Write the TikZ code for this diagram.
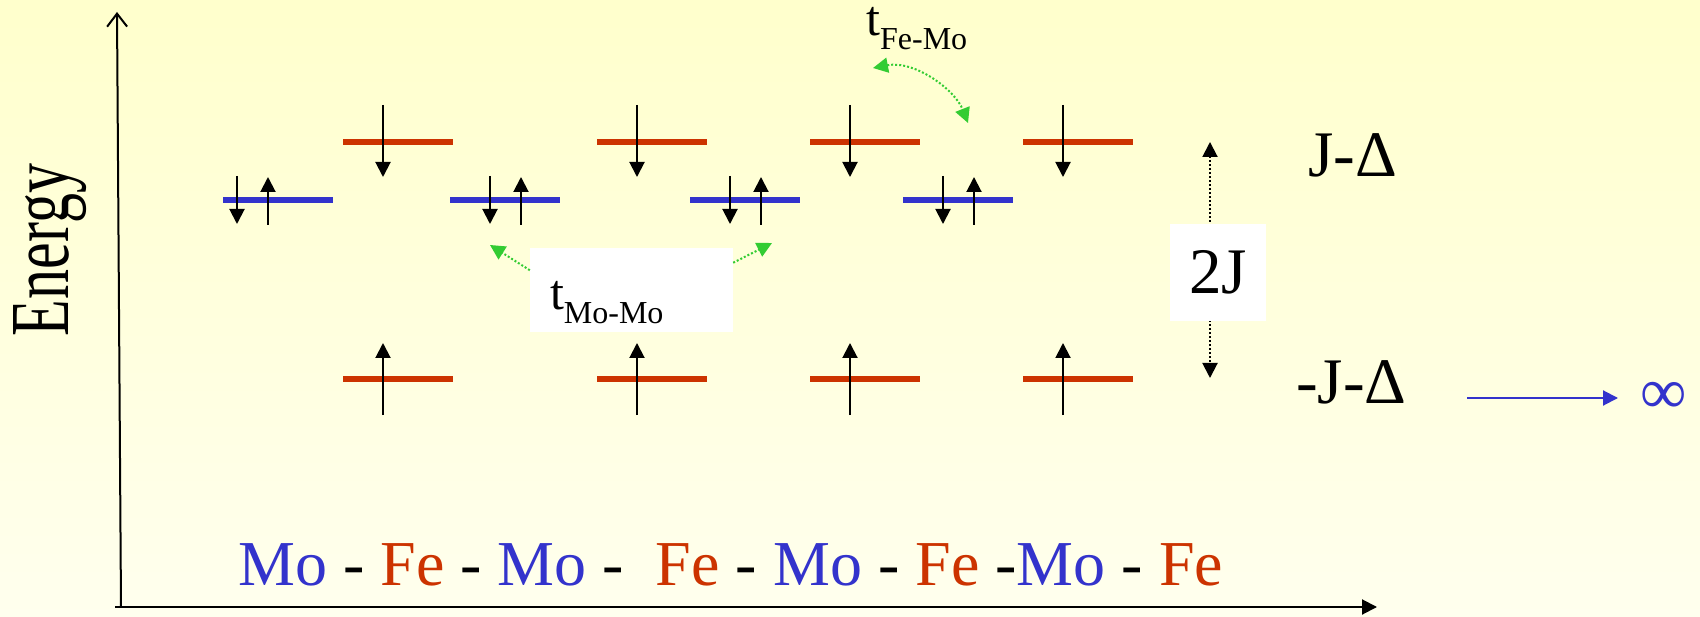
\documentclass[tikz,border=0pt]{standalone}
\usepackage{graphicx}
\usepackage{fontspec}
\setmainfont{Liberation Serif}
\usetikzlibrary{arrows.meta,positioning}

\definecolor{moblue}{RGB}{51,51,204}
\definecolor{fered}{RGB}{204,51,0}
\definecolor{hopgreen}{RGB}{51,204,51}
\definecolor{slidetop}{RGB}{255,255,204}
\definecolor{slidebot}{RGB}{255,255,238}

\newcommand{\bigtxt}{\fontsize{65}{70}\selectfont}
\newcommand{\hoplabel}[1]{{\fontsize{50}{50}\selectfont t}\raisebox{-14pt}{\fontsize{32}{32}\selectfont #1}}

\tikzset{
  level/.style={line width=6pt},
  spin/.style={line width=2pt,->},
  hop/.style={hopgreen,line width=2pt,dotted},
  txt/.style={inner sep=0pt},
  whitebox/.style={fill=white,inner sep=0pt},
}

\begin{document}
\begin{tikzpicture}[x=1pt,y=-1pt,>={Triangle[width=15pt,length=15pt]}]
\useasboundingbox (0,0) rectangle (1700,617);
\shade[top color=slidetop,bottom color=slidebot] (0,0) rectangle (1700,617);

% axes
\coordinate (ebot) at (121,607);
\coordinate (etop) at (117,12);
\coordinate (xleft) at (115,607);
\coordinate (xright) at (1377,607);
\draw[line width=2pt,-{Straight Barb[width=20pt,length=13pt]}] (ebot) -- (etop);
\draw[line width=2pt,->] (xleft) -- (xright);
\node[txt,rotate=90,anchor=base] (energy) at (68,250) {\fontsize{60}{66}\selectfont\scalebox{1}[1.4]{Energy}};

% levels
\foreach \lx in {343,597,810,1023} {
  \draw[level,fered] (\lx,142) -- ++(110,0);
  \draw[level,fered] (\lx,379) -- ++(110,0);
}
\foreach \lx in {223,450,690,903}
  \draw[level,moblue] (\lx,200) -- ++(110,0);

% spins
\foreach \sx in {383,637,850,1063} {
  \draw[spin] (\sx,105) -- (\sx,177);
  \draw[spin] (\sx,415) -- (\sx,343);
}
\foreach \sx in {237,490,730,943} {
  \draw[spin] (\sx,176) -- (\sx,224);
  \draw[spin] (\sx+31,225) -- (\sx+31,177);
}

% splitting
\coordinate (jtop) at (1210,142);
\coordinate (jbot) at (1210,378);
\draw[line width=2pt,dotted,<->] (jtop) -- (jbot);
\node[whitebox,minimum width=96pt,minimum height=97pt] (gap) at (1218,272.5) {\bigtxt 2J};
\node[txt,anchor=base west] (upper) at (1308,177) {\bigtxt J-Δ};
\node[txt,anchor=base west] (lower) at (1296,403) {\bigtxt -J-Δ};

\node[txt,moblue,anchor=west] (inf) at (1640,398) {\bigtxt ∞};
\coordinate (limit) at (1467,398);
\draw[moblue,line width=2pt,->,shorten >=22pt] (limit) -- (inf);

% hopping
\node[whitebox,minimum width=203pt,minimum height=84pt,inner xsep=20pt,text width=163pt,
      text height=40pt,text depth=0pt,align=left] (tmm) at (631.5,290) {\hoplabel{Mo-Mo}};
\coordinate (mm1) at (490,245);
\coordinate (mm2) at (772,243);
\draw[hop,->] (tmm.169) -- (mm1);
\draw[hop,->] (tmm.15) -- (mm2);

\node[txt,anchor=base west] (tfm) at (866,36) {\hoplabel{Fe-Mo}};
\coordinate (fm1) at (873,68);
\coordinate (fm2) at (968,123);
\draw[hop,<->] (fm1) .. controls (915,60) and (955,90) .. (fm2);

% chain
\node[txt,anchor=base west] (chain) at (238,585) {\fontsize{64}{70}\selectfont\textcolor{moblue}{Mo} - \textcolor{fered}{Fe} - \textcolor{moblue}{Mo} -\ \ \textcolor{fered}{Fe} - \textcolor{moblue}{Mo} - \textcolor{fered}{Fe} -\textcolor{moblue}{Mo} - \textcolor{fered}{Fe}};
\end{tikzpicture}
\end{document}
